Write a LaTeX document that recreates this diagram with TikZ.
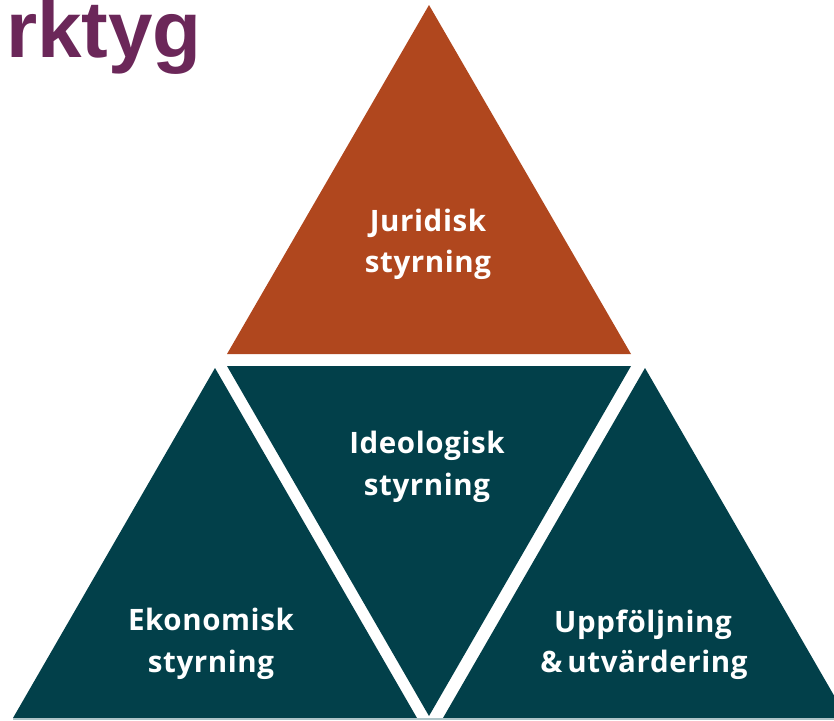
\documentclass[tikz,border=0pt]{standalone}
\usepackage{fontspec}
\setmainfont{Open Sans}[LetterSpace=2]
\newfontfamily\titlefont{Liberation Sans}
\definecolor{rust}{HTML}{B0471E}
\definecolor{petrol}{HTML}{02404A}
\definecolor{plum}{HTML}{6B2759}
\definecolor{edgeline}{HTML}{AEC4C8}
\begin{document}
\begin{tikzpicture}[x=1pt,y=-1pt,
  lbl/.style={text=white,font=\fontsize{29.5}{29.5}\selectfont\bfseries,anchor=base,inner sep=0pt}]
\useasboundingbox (0,0) rectangle (834,720);
\clip (0,0) rectangle (834,720);
% triangles
\fill[rust] (227,354) -- (631,354) -- (429,5) -- cycle;
\fill[petrol] (227,366) -- (631,366) -- (429,716) -- cycle;
\fill[petrol] (13,718) -- (417,718) -- (215,368) -- cycle;
\fill[petrol] (443,718) -- (847,718) -- (645,368) -- cycle;
\fill[edgeline] (13,718) rectangle (834,720);
% title fragment
\node[anchor=base east,inner sep=0pt,text=plum,font=\titlefont\fontsize{80}{80}\selectfont\bfseries] (title) at (202,57.5) {rktyg};
% labels
\node[lbl] (j1) at (428,231) {Juridisk};
\node[lbl] (j2) at (428,272) {styrning};
\node[lbl] (i1) at (427,453) {Ideologisk};
\node[lbl] (i2) at (427,495) {styrning};
\node[lbl] (e1) at (211,630) {Ekonomisk};
\node[lbl] (e2) at (211,672) {styrning};
\node[lbl] (u1) at (643,632) {Uppföljning};
\node[lbl] (u2) at (644,672) {\&\,utvärdering};
\end{tikzpicture}
\end{document}
